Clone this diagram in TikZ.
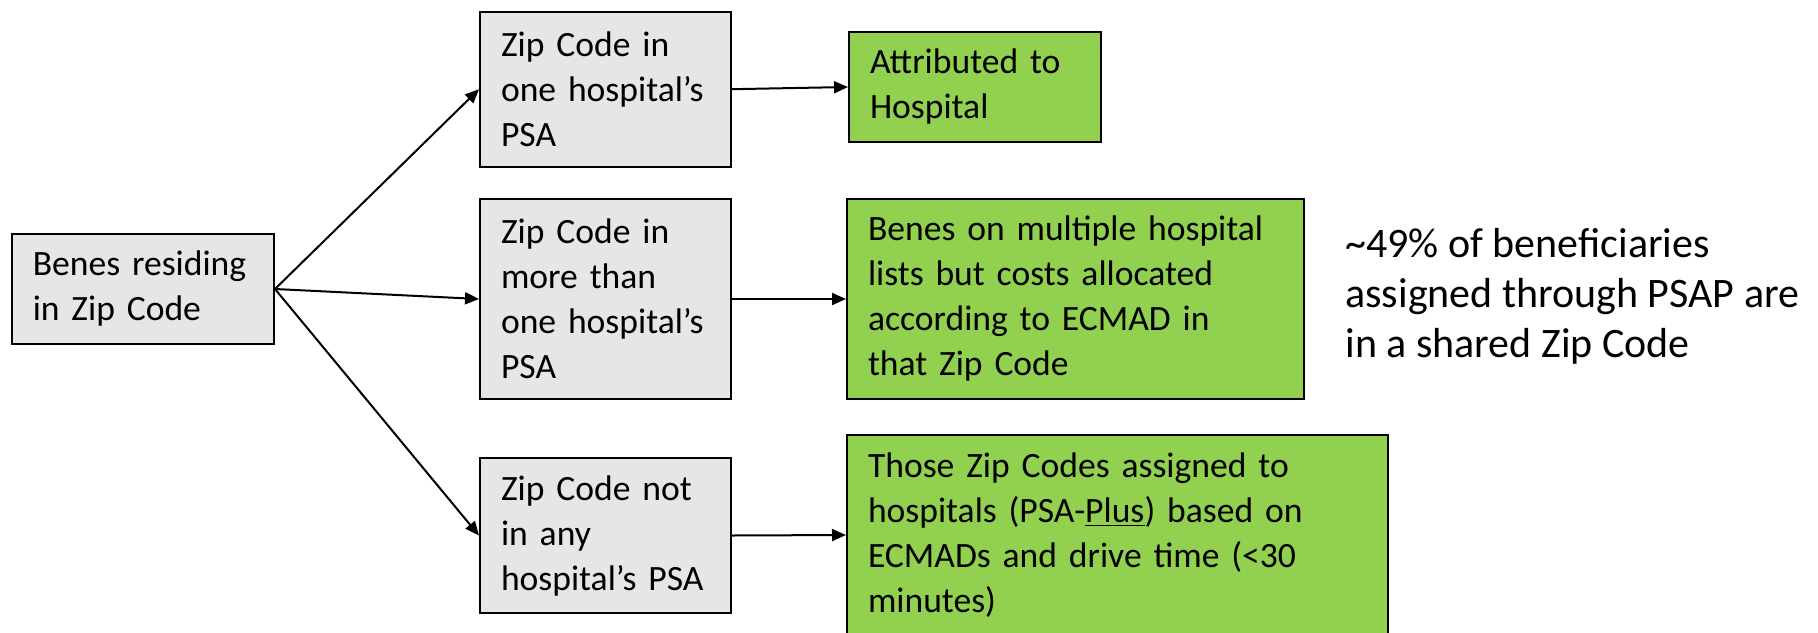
\documentclass[tikz,border=0pt]{standalone}
\usepackage{fontspec}
\setmainfont{Carlito}
\usetikzlibrary{arrows.meta}
\definecolor{boxgray}{HTML}{E6E6E6}
\definecolor{boxgreen}{HTML}{92D050}
\begin{document}
\begin{tikzpicture}[x=0.5pt,y=-0.5pt,
  base/.style={draw=black, line width=1pt, anchor=north west, inner xsep=10.5pt, inner ysep=0pt,
    align=left, font=\fontsize{17.8}{22.5}\selectfont},
  graybox/.style={base, fill=boxgray},
  greenbox/.style={base, fill=boxgreen},
  conn/.style={line width=1pt, -{Triangle[length=7pt,width=6pt]}},
  note/.style={anchor=west, inner sep=0pt, align=left, font=\fontsize{21}{25}\selectfont}]
\useasboundingbox (0,0) rectangle (1818,632);
\clip (0,0) rectangle (1818,632);

\node[graybox, minimum width=131.25pt, minimum height=55pt, text width=110pt] (benes) at (10.5,233) {Benes residing\\in Zip Code};

\node[graybox, minimum width=125.5pt, minimum height=77.5pt, text width=104.5pt] (zip1) at (479,10.7) {Zip Code in\\one hospital’s\\PSA};
\node[graybox, minimum width=125.5pt, minimum height=100pt, text width=104.5pt] (zip2) at (479,198) {Zip Code in\\more than\\one hospital’s\\PSA};
\node[graybox, minimum width=125.5pt, minimum height=77.5pt, text width=104.5pt] (zip3) at (479,457) {Zip Code not\\in any\\hospital’s PSA};

\node[greenbox, minimum width=126pt, minimum height=55pt, text width=105pt] (g1) at (848,31) {Attributed to\\Hospital};
\node[greenbox, minimum width=228.5pt, minimum height=100pt, text width=207.5pt] (g2) at (846,198) {Benes on multiple hospital\\lists but costs allocated\\according to ECMAD in\\that Zip Code};
\node[greenbox, minimum width=270.5pt, minimum height=100pt, text width=249.5pt] (g3) at (846,434) {Those Zip Codes assigned to\\hospitals (PSA-\underline{Plus}) based on\\ECMADs and drive time (<30\\minutes)};

\node[note] (note) at (1345,296) {\textasciitilde 49\% of beneficiaries\\assigned through PSAP are\\in a shared Zip Code};

\draw[conn] (benes.east) -- (zip1.west);
\draw[conn] (benes.east) -- (zip2.west);
\draw[conn] (benes.east) -- (zip3.west);
\draw[conn] (zip1.east) -- (g1.west);
\draw[conn] (zip2.east) -- (g2.west);
\draw[conn] (zip3.east) -- (g3.west);
\end{tikzpicture}
\end{document}
